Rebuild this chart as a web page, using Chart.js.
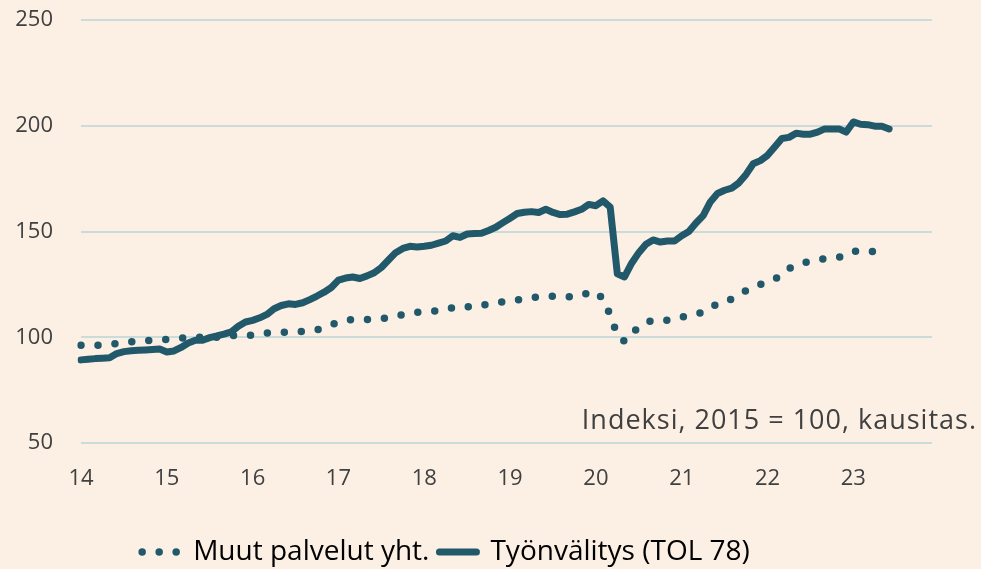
<!DOCTYPE html>
<html>
<head>
<meta charset="utf-8">
<script src="https://cdn.jsdelivr.net/npm/chart.js@4"></script>
<style>
  html, body { margin: 0; padding: 0; background: #fcf0e5; overflow: hidden; }
  #wrap { width: 981px; height: 569px; }
</style>
</head>
<body>
<div id="wrap"><canvas id="chart" width="981" height="569"></canvas></div>
<script>
// x-akselin vuodet (kuukausidata 2014/01 - 2023/06)
const years = ['14', '15', '16', '17', '18', '19', '20', '21', '22', '23'];

// Muut palvelut yht.
const muutPalvelut = [
  96.2, 96.2, 96.2, 96.3, 96.6, 97.0, 97.4, 97.9, 98.1, 98.4, 98.6, 98.8,
  99.0, 99.3, 99.6, 99.8, 100.0, 100.0, 100.0, 100.0, 100.3, 100.7, 101.0, 101.0,
  101.0, 101.5, 102.0, 102.4, 102.4, 102.4, 102.5, 102.7, 103.0, 103.6, 104.3, 105.8,
  107.3, 108.0, 108.4, 108.4, 108.4, 108.4, 108.8, 109.3, 109.9, 110.7, 111.5, 111.8,
  112.0, 112.3, 112.6, 113.2, 114.0, 114.7, 114.5, 114.2, 115.0, 115.8, 116.4, 116.7,
  117.0, 117.6, 118.2, 118.7, 119.1, 119.4, 119.4, 119.4, 119.2, 119.0, 119.8, 121.0,
  121.5, 118.0, 110.5, 101.0, 98.0, 101.5, 105.0, 107.0, 108.0, 108.0, 108.0, 108.5,
  109.5, 110.5, 111.2, 111.7, 113.5, 116.0, 117.2, 118.0, 120.0, 122.0, 123.8, 125.0,
  126.0, 127.5, 129.5, 132.5, 134.2, 135.2, 135.8, 136.5, 137.1, 137.5, 137.8, 138.8,
  140.5, 141.1, 140.8, 140.5
];

// Työnvälitys (TOL 78)
const tyonvalitys = [
  89.3, 89.6, 89.9, 90.1, 90.3, 92.3, 93.2, 93.6, 93.8, 94.0, 94.2, 94.4,
  93.0, 93.5, 95.2, 97.3, 98.6, 98.6, 99.8, 100.6, 101.5, 102.5, 105.2, 107.2,
  108.0, 109.2, 110.8, 113.5, 115.0, 115.8, 115.5, 116.3, 117.8, 119.5, 121.3, 123.5,
  127.0, 128.0, 128.5, 127.8, 129.0, 130.5, 133.0, 136.5, 140.0, 142.0, 143.0, 142.7,
  143.0, 143.5, 144.5, 145.5, 148.0, 147.2, 148.8, 149.0, 149.2, 150.5, 152.0, 154.2,
  156.3, 158.5, 159.1, 159.4, 159.0, 160.5, 159.0, 158.0, 158.2, 159.3, 160.5, 162.8,
  162.2, 164.5, 161.5, 130.0, 128.5, 135.0, 140.0, 144.0, 146.0, 145.0, 145.5, 145.5,
  148.0, 150.0, 154.0, 157.5, 164.0, 168.0, 169.5, 170.5, 173.0, 177.0, 182.0, 183.5,
  186.0, 190.0, 194.0, 194.5, 196.5, 196.0, 196.0, 197.0, 198.5, 198.5, 198.5, 197.0,
  201.8, 200.7, 200.5, 199.8, 199.8, 198.5
];

const yTicks = [50, 100, 150, 200, 250];
const note = 'Indeksi, 2015 = 100, kausitas.';

// kuukausikategoriat koko vuodelle 2023 asti
const labels = [];
years.forEach(y => {
  for (let m = 1; m <= 12; m++) labels.push(y + '/' + m);
});

const lineColor = '#21596b';
const gridColor = '#c9dcd9';
const textColor = '#404040';

const notePlugin = {
  id: 'note',
  afterLayout(chart) {
    // legenda hieman vasemmalle kuten alkuperäisessä
    chart.legend.left -= 20;
    chart.legend.right -= 20;
  },
  afterDraw(chart) {
    const ctx = chart.ctx;
    ctx.save();
    ctx.font = '27px "Open Sans"';
    ctx.letterSpacing = '1px';
    ctx.fillStyle = textColor;
    ctx.textAlign = 'right';
    ctx.textBaseline = 'middle';
    ctx.fillText(note, 977, 421);
    ctx.restore();
  }
};

new Chart(document.getElementById('chart'), {
  type: 'line',
  data: {
    labels: labels,
    datasets: [
      {
        label: 'Muut palvelut yht.',
        data: muutPalvelut,
        borderColor: lineColor,
        backgroundColor: lineColor,
        borderWidth: 7.5,
        borderDash: [0, 17],
        borderCapStyle: 'round',
        pointRadius: 0,
        tension: 0
      },
      {
        label: 'Työnvälitys (TOL 78)',
        data: tyonvalitys,
        borderColor: lineColor,
        backgroundColor: lineColor,
        borderWidth: 7,
        borderCapStyle: 'round',
        borderJoinStyle: 'round',
        pointRadius: 0,
        tension: 0
      }
    ]
  },
  options: {
    responsive: false,
    animation: false,
    layout: { padding: { top: 20, right: 49, left: 0, bottom: -7 } },
    plugins: {
      tooltip: { enabled: false },
      legend: {
        position: 'bottom',
        labels: {
          usePointStyle: true,
          pointStyleWidth: 37,
          boxHeight: 7,
          padding: 10,
          color: '#383838',
          font: { family: '"Open Sans"', size: 28 },
          generateLabels: chart => chart.data.datasets.map((ds, i) => ({
            text: ds.label,
            datasetIndex: i,
            fillStyle: ds.borderColor,
            strokeStyle: ds.borderColor,
            lineWidth: ds.borderWidth,
            lineDash: ds.borderDash || [],
            lineCap: 'round',
            pointStyle: 'line',
            hidden: false
          }))
        }
      }
    },
    scales: {
      x: {
        type: 'category',
        offset: false,
        grid: { display: false },
        border: { display: false },
        afterFit: s => { s.height = 85; },
        ticks: {
          autoSkip: false,
          maxRotation: 0,
          padding: 15,
          color: textColor,
          font: { family: '"Open Sans"', size: 22 },
          callback: function(value, index) {
            return index % 12 === 0 ? years[index / 12] : null;
          }
        }
      },
      y: {
        min: 50,
        max: 250,
        afterBuildTicks: s => { s.ticks = yTicks.map(v => ({ value: v })); },
        afterFit: s => { s.width = 81; },
        grid: {
          color: gridColor,
          lineWidth: 2,
          drawTicks: true,
          tickLength: 28,
          tickColor: 'rgba(0,0,0,0)'
        },
        border: { display: false },
        ticks: {
          padding: 0,
          color: textColor,
          font: { family: '"Open Sans"', size: 22 }
        }
      }
    }
  },
  plugins: [notePlugin]
});
</script>
</body>
</html>
